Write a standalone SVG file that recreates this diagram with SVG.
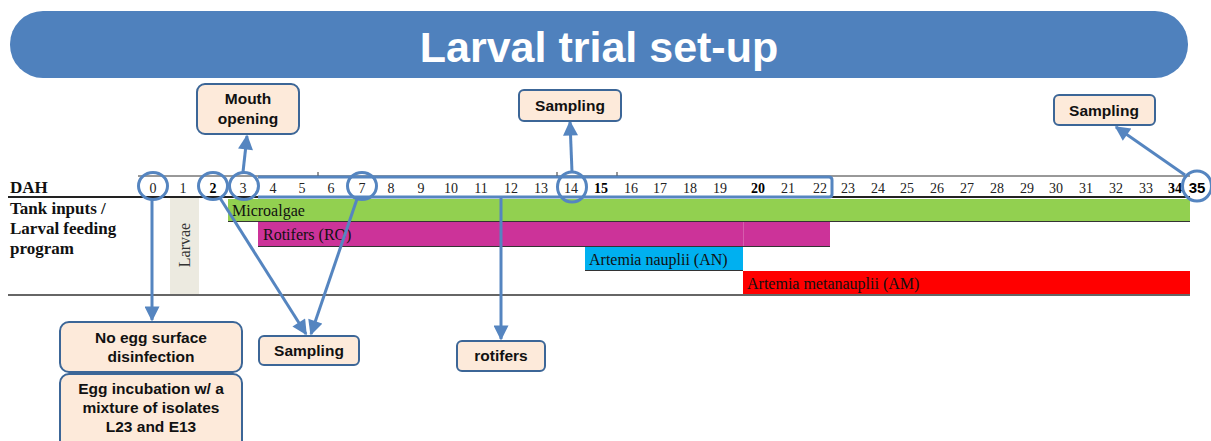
<svg xmlns="http://www.w3.org/2000/svg" width="1211" height="441" viewBox="0 0 1211 441">
<style>
.num{font-family:"Liberation Serif",serif;font-size:14px;fill:#222;text-anchor:middle}
.b{font-weight:bold;fill:#000}
.lbl{font-family:"Liberation Serif",serif;font-size:17px;font-weight:bold;fill:#111}
.bar{font-family:"Liberation Serif",serif;font-size:16px;fill:#111}
.box{fill:#FDEADA;stroke:#3C6697;stroke-width:2}
.bt{font-family:"Liberation Sans",Arial,sans-serif;font-size:15.5px;font-weight:bold;fill:#111;text-anchor:middle}
.hl{fill:none;stroke:#5585C0;stroke-width:3}
.con{fill:none;stroke:#5585C0;stroke-width:3;marker-end:url(#arr)}
</style>
<defs>
<marker id="arr" viewBox="0 0 10 10" refX="9" refY="5" markerWidth="17" markerHeight="15" markerUnits="userSpaceOnUse" orient="auto">
<path d="M0,0 L10,5 L0,10 Z" fill="#5585C0"/>
</marker>
</defs>
<rect width="1211" height="441" fill="#fff"/>
<g id="title">
<rect x="10" y="11" width="1178" height="67" rx="33" ry="33" fill="#4F81BD"/>
<text x="599" y="62" font-family="Liberation Sans,Arial,sans-serif" font-size="43" font-weight="bold" fill="#fff" text-anchor="middle">Larval trial set-up</text>
</g>
<g id="timeline">
<line x1="138" y1="176" x2="1190" y2="176" stroke="#333" stroke-width="1"/>
<line x1="8" y1="197" x2="1190" y2="197" stroke="#222" stroke-width="2"/>
<line x1="318" y1="172" x2="318" y2="176" stroke="#333" stroke-width="1"/>
<line x1="557" y1="172" x2="557" y2="176" stroke="#333" stroke-width="1"/>
<line x1="617" y1="172" x2="617" y2="176" stroke="#333" stroke-width="1"/>
<text x="10" y="193" class="lbl" font-size="16">DAH</text>
<text x="10" y="214" class="lbl">Tank inputs /</text>
<text x="10" y="234" class="lbl">Larval feeding</text>
<text x="10" y="254" class="lbl">program</text>
<g>
<text class="num" x="153" y="193">0</text>
<text class="num" x="183" y="193">1</text>
<text class="num b" x="213" y="193">2</text>
<text class="num" x="243" y="193">3</text>
<text class="num" x="273" y="193">4</text>
<text class="num" x="302" y="193">5</text>
<text class="num" x="331" y="193">6</text>
<text class="num" x="362" y="193">7</text>
<text class="num" x="391" y="193">8</text>
<text class="num" x="421" y="193">9</text>
<text class="num" x="451" y="193">10</text>
<text class="num" x="481" y="193">11</text>
<text class="num" x="511" y="193">12</text>
<text class="num" x="541" y="193">13</text>
<text class="num" x="571" y="193">14</text>
<text class="num b" x="601" y="193">15</text>
<text class="num" x="631" y="193">16</text>
<text class="num" x="660" y="193">17</text>
<text class="num" x="690" y="193">18</text>
<text class="num" x="720" y="193">19</text>
<text class="num b" x="758" y="193">20</text>
<text class="num" x="788" y="193">21</text>
<text class="num" x="820" y="193">22</text>
<text class="num" x="848" y="193">23</text>
<text class="num" x="878" y="193">24</text>
<text class="num" x="907" y="193">25</text>
<text class="num" x="937" y="193">26</text>
<text class="num" x="967" y="193">27</text>
<text class="num" x="997" y="193">28</text>
<text class="num" x="1027" y="193">29</text>
<text class="num" x="1056" y="193">30</text>
<text class="num" x="1086" y="193">31</text>
<text class="num" x="1116" y="193">32</text>
<text class="num" x="1146" y="193">33</text>
<text class="num b" x="1175" y="193">34</text>
<text x="1197" y="193" font-family="Liberation Sans,Arial,sans-serif" font-size="15" font-weight="bold" fill="#000" text-anchor="middle">35</text>
</g>
<rect x="170" y="198" width="29" height="96" fill="#ECEAE0"/>
<text transform="translate(190,245) rotate(-90)" font-family="Liberation Serif,serif" font-size="16" fill="#333" text-anchor="middle">Larvae</text>
<rect x="228" y="199" width="962" height="22" fill="#92D050"/>
<line x1="228" y1="221.5" x2="1190" y2="221.5" stroke="#333" stroke-width="1"/>
<text x="232" y="216" class="bar">Microalgae</text>
<rect x="258" y="222" width="572" height="24" fill="#CC3399"/>
<line x1="743.5" y1="222" x2="743.5" y2="246" stroke="#D65CAD" stroke-width="1"/>
<line x1="258" y1="246.5" x2="830" y2="246.5" stroke="#333" stroke-width="1"/>
<text x="263" y="240" class="bar">Rotifers (RO)</text>
<rect x="585" y="247" width="158" height="23" fill="#00B0F0"/>
<line x1="585" y1="270.5" x2="743" y2="270.5" stroke="#333" stroke-width="1"/>
<text x="589" y="265" class="bar">Artemia nauplii (AN)</text>
<rect x="743" y="271" width="447" height="23" fill="#FF0000"/>
<text x="747" y="289" class="bar">Artemia metanauplii (AM)</text>
<line x1="8" y1="295" x2="1190" y2="295" stroke="#666" stroke-width="2"/>
</g>
<g id="highlights">
<ellipse class="hl" cx="153" cy="186" rx="14.5" ry="13.5"/>
<ellipse class="hl" cx="213" cy="186" rx="14.5" ry="13.5"/>
<ellipse class="hl" cx="244" cy="186" rx="14.5" ry="13.5"/>
<ellipse class="hl" cx="362" cy="186" rx="14.5" ry="13.5"/>
<ellipse class="hl" cx="572" cy="187" rx="14.5" ry="15"/>
<ellipse class="hl" cx="1197" cy="186" rx="14.5" ry="15"/>
<path class="hl" d="M258,177 H829 Q832,177 832,180 V194 Q832,197 829,197 H258"/>
</g>
<g id="connectors">
<line class="con" x1="152" y1="200" x2="152" y2="320"/>
<line class="con" x1="220" y1="198" x2="306" y2="334"/>
<line class="con" x1="357" y1="199" x2="311" y2="334"/>
<line class="con" x1="501" y1="198" x2="501" y2="339"/>
<line class="con" x1="243" y1="172" x2="247" y2="136"/>
<line class="con" x1="572" y1="172" x2="570" y2="122"/>
<line class="con" x1="1185" y1="175" x2="1116" y2="127"/>
</g>
<g id="node-mouth">
<rect class="box" x="197" y="84" width="102" height="50" rx="8"/>
<text class="bt" x="248" y="104">Mouth</text>
<text class="bt" x="248" y="124">opening</text>
</g>
<g id="node-sampling-14">
<rect class="box" x="519" y="90" width="102" height="31" rx="5"/>
<text class="bt" x="570" y="111">Sampling</text>
</g>
<g id="node-sampling-35">
<rect class="box" x="1054" y="95" width="101" height="30" rx="5"/>
<text class="bt" x="1104" y="116">Sampling</text>
</g>
<g id="node-disinfection">
<rect class="box" x="60" y="322" width="182" height="50" rx="9"/>
<text class="bt" x="151" y="343">No egg surface</text>
<text class="bt" x="151" y="362">disinfection</text>
</g>
<g id="node-incubation">
<rect class="box" x="60" y="374" width="182" height="75" rx="9"/>
<text class="bt" x="151" y="394">Egg incubation w/ a</text>
<text class="bt" x="151" y="413">mixture of isolates</text>
<text class="bt" x="151" y="432">L23 and E13</text>
</g>
<g id="node-sampling-low">
<rect class="box" x="259" y="336" width="100" height="29" rx="5"/>
<text class="bt" x="309" y="356">Sampling</text>
</g>
<g id="node-rotifers">
<rect class="box" x="457" y="341" width="88" height="30" rx="5"/>
<text class="bt" x="501" y="361">rotifers</text>
</g>
</svg>
